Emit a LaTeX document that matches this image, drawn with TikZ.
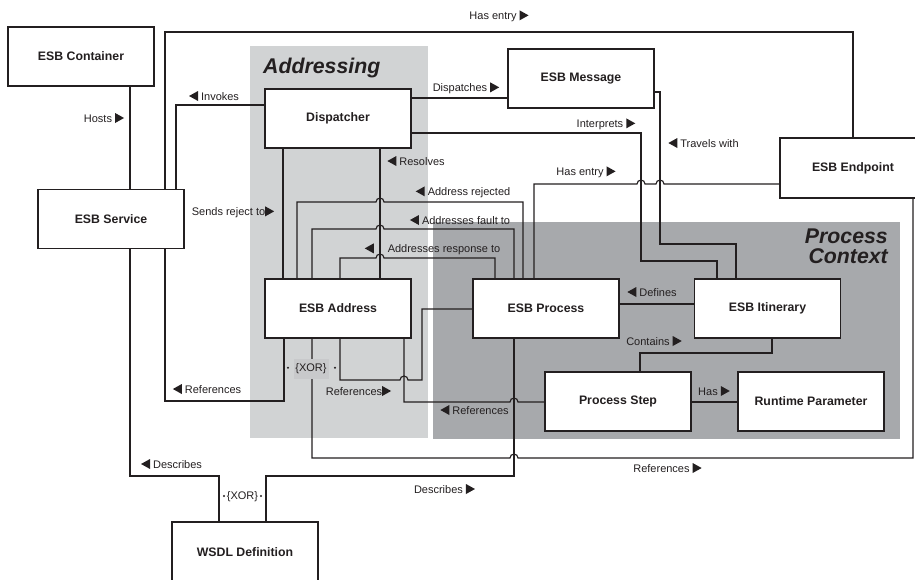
\documentclass[tikz,border=0pt]{standalone}
\usepackage{fontspec}
\setmainfont{Liberation Sans}
\definecolor{ink}{HTML}{231F20}
\definecolor{lightzone}{HTML}{D1D3D4}
\definecolor{darkzone}{HTML}{A7A9AC}
\definecolor{xorbg}{HTML}{C8C9CB}
% small filled direction triangles used inside labels
\newcommand\rtri{\tikz[baseline=0pt]\fill[ink] (0pt,-1pt) -- (0pt,9pt) -- (9pt,4pt) -- cycle;}
\newcommand\ltri{\tikz[baseline=0pt]\fill[ink] (9pt,-1pt) -- (9pt,9pt) -- (0pt,4pt) -- cycle;}
% constraint dot
\newcommand\xordot{\tikz[baseline=0pt]\fill[ink] (0pt,3.8pt) circle[radius=1.1pt];}
\tikzset{
  entity/.style={draw=ink, fill=white, line width=1.15pt, minimum width=146pt,
    minimum height=59pt, inner sep=0pt, text=ink,
    font=\bfseries\fontsize{12.3}{14}\selectfont},
  link/.style={draw=ink, line width=1.15pt},
  lbl/.style={inner sep=0pt, text=ink, font=\fontsize{11}{13}\selectfont},
  zonetitle/.style={inner sep=0pt, text=ink, font=\bfseries\itshape\fontsize{21.3}{20}\selectfont}
}
\begin{document}
\begin{tikzpicture}[x=1pt,y=-1pt]
\useasboundingbox (0,0) rectangle (915,579);
% shaded zones
\fill[lightzone] (250,46) rectangle (428,438);
\fill[darkzone] (433,222) rectangle (900,439);
\node[zonetitle, anchor=base west] (addrtitle) at (263,73) {Addressing};
\node[zonetitle, anchor=base east] (proctitle1) at (888,243) {Process};
\node[zonetitle, anchor=base east] (proctitle2) at (888,263) {Context};

% entities
\node[entity] (cont) at (81,56.5) {ESB Container};
\node[entity] (serv) at (111,219) {ESB Service};
\node[entity] (disp) at (338,118.5) {Dispatcher};
\node[entity] (msg) at (581,78.5) {ESB Message};
\node[entity, minimum height=60pt] (endp) at (853,168) {ESB Endpoint};
\node[entity] (addr) at (338,308.5) {ESB Address};
\node[entity] (proc) at (546,308.5) {ESB Process};
\node[entity] (itin) at (767.5,308.5) {ESB Itinerary};
\node[entity] (step) at (618,401.5) {Process Step};
\node[entity] (rtp) at (811,401.5) {Runtime Parameter};
\node[entity, minimum height=60pt] (wsdl) at (245,552) {WSDL Definition};

% connectors
\draw[link] (cont.south -| 130,0) -- (serv.north -| 130,0);
\draw[link] (serv.north -| 165,0) -- (165,32) -- (853,32) -- (endp.north);
\draw[link] (serv.north -| 176,0) -- (176,105) -- (disp.west |- 0,105);
\draw[link] (disp.south -| 283,0) -- (addr.north -| 283,0);
\draw[link] (disp.south -| 380,0) -- (addr.north -| 380,0);
\draw[link] (addr.north -| 297,0) -- (297,202) -- (376,202)
  arc[start angle=180, end angle=360, radius=4] -- (523,202) -- (proc.north -| 523,0);
\draw[link] (addr.north -| 312,0) -- (312,229) -- (376,229)
  arc[start angle=180, end angle=360, radius=4] -- (514,229) -- (proc.north -| 514,0);
\draw[link] (addr.north -| 340,0) -- (340,258) -- (376,258)
  arc[start angle=180, end angle=360, radius=4] -- (495,258) -- (proc.north -| 495,0);
\draw[link] (proc.north -| 534,0) -- (534,184) -- (637,184)
  arc[start angle=180, end angle=360, radius=4] -- (656,184)
  arc[start angle=180, end angle=360, radius=4] -- (endp.west |- 0,184);
\draw[link] (disp.east |- 0,98) -- (msg.west |- 0,98);
\draw[link] (disp.east |- 0,133) -- (641,133) -- (641,261) -- (717,261) -- (itin.north -| 717,0);
\draw[link] (msg.east |- 0,92) -- (660,92) -- (660,244) -- (736,244) -- (itin.north -| 736,0);
\draw[link] (itin.west |- 0,304) -- (proc.east |- 0,304);
\draw[link] (itin.south -| 772,0) -- (772,353) -- (640,353) -- (step.north -| 640,0);
\draw[link] (step.east |- 0,402) -- (rtp.west |- 0,402);
\draw[link] (addr.south -| 404,0) -- (404,402) -- (510,402)
  arc[start angle=180, end angle=360, radius=4] -- (step.west |- 0,402);
\draw[link] (addr.south -| 340,0) -- (340,380) -- (400,380)
  arc[start angle=180, end angle=360, radius=4] -- (422,380) -- (422,309) -- (proc.west |- 0,309);
\draw[link] (addr.south -| 284,0) -- (284,401) -- (165,401) -- (serv.south -| 165,0);
\draw[link] (addr.south -| 312,0) -- (312,458) -- (510,458)
  arc[start angle=180, end angle=360, radius=4] -- (913,458) -- (endp.south -| 913,0);
\draw[link] (wsdl.north -| 219,0) -- (219,476) -- (130,476) -- (serv.south -| 130,0);
\draw[link] (wsdl.north -| 266,0) -- (266,476) -- (514,476) -- (proc.south -| 514,0);

% XOR constraints
\node[lbl, fill=xorbg, minimum width=35pt, minimum height=20pt] (xora) at (311,369) {\{XOR\}};
\node[lbl] (xoradl) at (288,369) {\xordot};
\node[lbl] (xoradr) at (335,369) {\xordot};
\node[lbl] (xorb) at (242.5,497) {\xordot\,\{XOR\}\,\xordot};

% connector labels
\node[lbl] (lhosts) at (104,118) {Hosts \rtri};
\node[lbl] (lentry1) at (499,16) {Has entry \rtri};
\node[lbl] (linvokes) at (214,96) {\ltri\ Invokes};
\node[lbl] (lreject) at (233,212) {Sends reject to\rtri};
\node[lbl] (lresolves) at (416,161) {\ltri\ Resolves};
\node[lbl] (lrejected) at (463,192) {\ltri\ Address rejected};
\node[lbl] (lfault) at (460,220) {\ltri\ Addresses fault to};
\node[lbl] (lresponse) at (432.5,249) {\ltri\hskip14pt Addresses response to};
\node[lbl] (lentry2) at (586,172) {Has entry \rtri};
\node[lbl] (ldispatch) at (466,88) {Dispatches \rtri};
\node[lbl] (linterp) at (606,124) {Interprets \rtri};
\node[lbl] (ltravel) at (703.5,143) {\ltri\ Travels with};
\node[lbl] (ldefines) at (652,292) {\ltri\ Defines};
\node[lbl] (lcontains) at (654,341) {Contains \rtri};
\node[lbl] (lhas) at (714,391) {Has \rtri};
\node[lbl] (lrefstep) at (474.5,410) {\ltri\ References};
\node[lbl] (lrefproc) at (358.5,391) {References\rtri};
\node[lbl] (lrefserv) at (207,389) {\ltri\ References};
\node[lbl] (lrefendp) at (667.5,468) {References \rtri};
\node[lbl] (ldescserv) at (171.5,464) {\ltri\ Describes};
\node[lbl] (ldescproc) at (444.5,489) {Describes \rtri};
\end{tikzpicture}
\end{document}
